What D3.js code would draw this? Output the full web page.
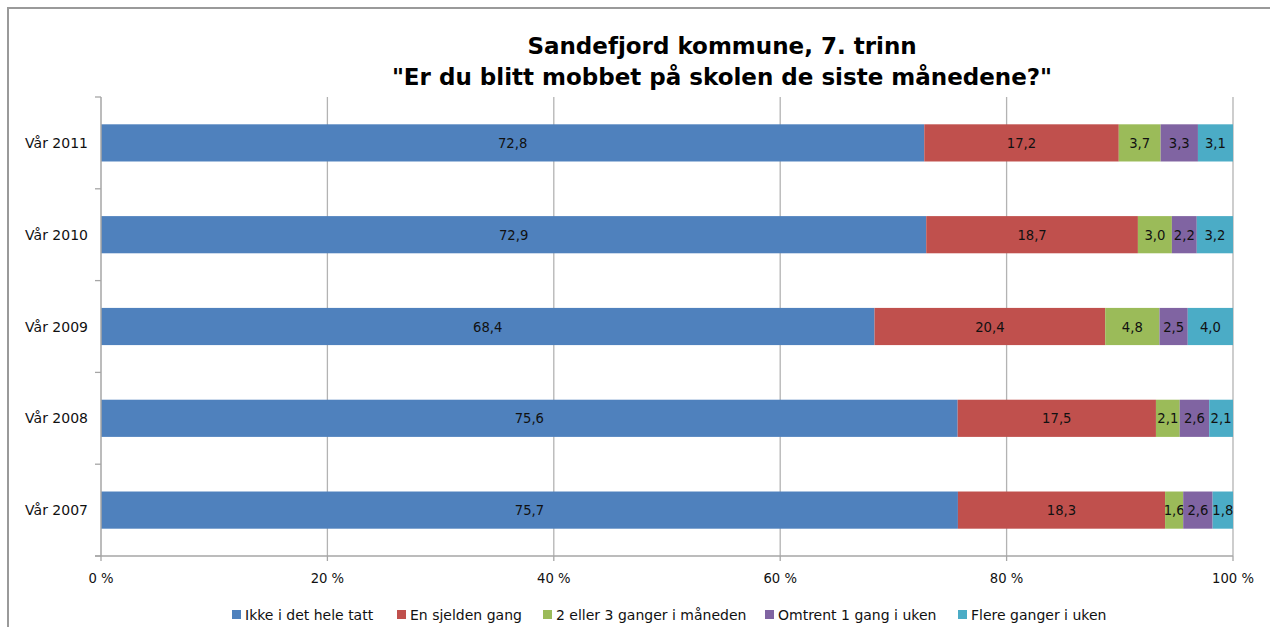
<!DOCTYPE html>
<html><head><meta charset="utf-8">
<script src="https://cdn.jsdelivr.net/npm/d3@7/dist/d3.min.js"></script>
<style>body{margin:0;background:#fff}svg{display:block;font-family:"DejaVu Sans",Verdana,sans-serif}</style>
</head><body><svg id="c" width="1270" height="627"></svg>
<script>
const categories = ["Vår 2011","Vår 2010","Vår 2009","Vår 2008","Vår 2007"];
const seriesNames = ["Ikke i det hele tatt","En sjelden gang","2 eller 3 ganger i måneden","Omtrent 1 gang i uken","Flere ganger i uken"];
const ikke = [72.8,72.9,68.4,75.6,75.7];
const sjelden = [17.2,18.7,20.4,17.5,18.3];
const manedlig = [3.7,3.0,4.8,2.1,1.6];
const ukentlig = [3.3,2.2,2.5,2.6,2.6];
const flere = [3.1,3.2,4.0,2.1,1.8];
const tickLabels = ["0 %","20 %","40 %","60 %","80 %","100 %"];
const colors = ["#4F81BD","#C0504D","#9BBB59","#8064A2","#4BACC6"];
const titleLines = ["Sandefjord kommune, 7. trinn","\"Er du blitt mobbet på skolen de siste månedene?\""];

(function(){
const svg = d3.select("#c");
svg.append("path").attr("d","M8,627 V8 H1270").attr("fill","none").attr("stroke","#9a9a9a").attr("stroke-width",2);

const pL=101,pR=1233,pT=97,pB=556;
const x = d3.scaleLinear().domain([0,1]).range([pL,pR]);
const y = d3.scaleBand().domain(categories).range([pT,pB]).paddingInner(0.595).paddingOuter(0.2975);
const ybound = d3.scaleBand().domain(categories).range([pT,pB]);

const allSeries=[ikke,sjelden,manedlig,ukentlig,flere];
const rows = categories.map((c,i)=>{const o={cat:c};seriesNames.forEach((s,j)=>o[s]=allSeries[j][i]);return o;});
const stacked = d3.stack().keys(seriesNames).offset(d3.stackOffsetExpand)(rows);

const g = svg.append("g");
[0.2,0.4,0.6,0.8,1].forEach(v=>{
  g.append("line").attr("x1",x(v)).attr("x2",x(v)).attr("y1",pT).attr("y2",pB).attr("stroke","#b3b3b3").attr("stroke-width",1.3);
});

const fsData = 13.2, fsCat = 14, fsTick = 13.2, fsLeg = 14;
const fmt = v=>v.toFixed(1).replace(".",",");
stacked.forEach((s,j)=>{
  const gg = svg.append("g");
  gg.selectAll("rect").data(s).join("rect")
    .attr("x",d=>x(d[0])).attr("width",d=>x(d[1])-x(d[0]))
    .attr("y",d=>y(d.data.cat)).attr("height",y.bandwidth())
    .attr("fill",colors[j]);
  gg.selectAll("text").data(s).join("text")
    .attr("x",d=>(x(d[0])+x(d[1]))/2).attr("y",d=>y(d.data.cat)+y.bandwidth()/2+5)
    .attr("text-anchor","middle").attr("font-size",fsData).attr("fill","#111")
    .text(d=>fmt(d.data[s.key]));
});

const ax = svg.append("g");
ax.append("line").attr("x1",pL).attr("x2",pL).attr("y1",pT).attr("y2",pB).attr("stroke","#a6a6a6").attr("stroke-width",1.5);
const bounds = categories.map(c=>ybound(c)).concat([pB]);
bounds.forEach(b=>ax.append("line").attr("x1",pL-6).attr("x2",pL).attr("y1",b).attr("y2",b).attr("stroke","#a6a6a6").attr("stroke-width",1.3));
categories.forEach(c=>ax.append("text").attr("x",88).attr("y",y(c)+y.bandwidth()/2+5).attr("text-anchor","end").attr("font-size",fsCat).attr("fill","#111").text(c));

const xa = svg.append("g");
xa.append("line").attr("x1",pL-6).attr("x2",pR).attr("y1",pB).attr("y2",pB).attr("stroke","#a6a6a6").attr("stroke-width",1.5);
x.ticks(5).forEach((t,i)=>{
  xa.append("line").attr("x1",x(t)).attr("x2",x(t)).attr("y1",pB).attr("y2",pB+5).attr("stroke","#a6a6a6").attr("stroke-width",1.3);
  xa.append("text").attr("x",x(t)).attr("y",583).attr("text-anchor","middle").attr("font-size",fsTick).attr("fill","#111").text(tickLabels[i]);
});

titleLines.forEach((t,i)=>svg.append("text").attr("x",722).attr("y",54+i*31).attr("text-anchor","middle").attr("font-size",23).attr("font-weight","bold").attr("fill","#000").text(t));

const legX=[232,397,543,765,958];
seriesNames.forEach((s,j)=>{
  svg.append("rect").attr("x",legX[j]).attr("y",610).attr("width",9).attr("height",9).attr("fill",colors[j]);
  svg.append("text").attr("x",legX[j]+13).attr("y",620).attr("font-size",fsLeg).attr("fill","#111").text(s);
});
})();
</script></body></html>
